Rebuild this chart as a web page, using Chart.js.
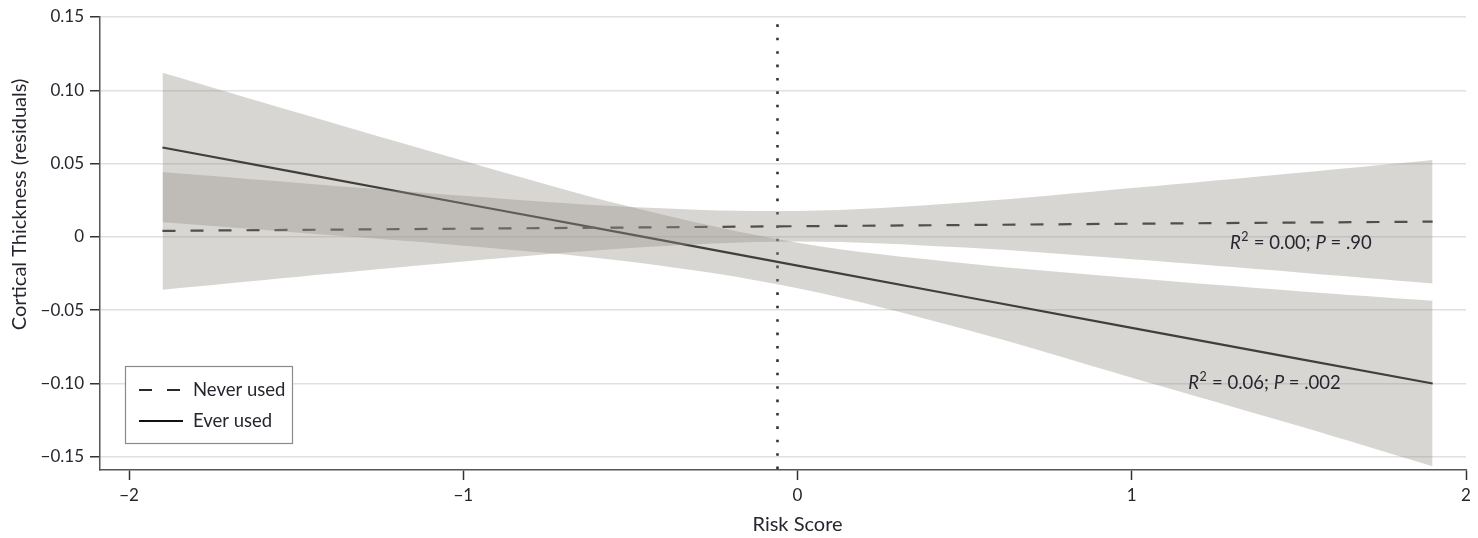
<!DOCTYPE html>
<html>
<head>
<meta charset="utf-8">
<script src="https://cdn.jsdelivr.net/npm/chart.js@4.4.1/dist/chart.umd.min.js"></script>
<style>
  html, body { margin: 0; padding: 0; background: #ffffff; }
  #wrap { width: 1478px; height: 538px; }
</style>
</head>
<body>
<div id="wrap"><canvas id="c" width="1478" height="538"></canvas></div>
<script>
// ---- data ----
const xPoints    = [-1.9, -1.5, -1.0, -0.5, 0, 0.5, 1.0, 1.5, 1.9];
const neverFit   = [0.0041, 0.0048, 0.0056, 0.0064, 0.0073, 0.0081, 0.0090, 0.0098, 0.0104];
const neverUpper = [0.0442, 0.0369, 0.0280, 0.0204, 0.0177, 0.0235, 0.0333, 0.0438, 0.0525];
const neverLower = [-0.0360, -0.0273, -0.0168, -0.0076, -0.0031, -0.0073, -0.0153, -0.0242, -0.0317];
const everFit    = [0.0610, 0.0440, 0.0228, 0.0017, -0.0196, -0.0408, -0.0620, -0.0832, -0.1000];
const everUpper  = [0.1120, 0.0850, 0.0520, 0.0205, -0.0040, -0.0180, -0.0280, -0.0370, -0.0435];
const everLower  = [0.0100, 0.0030, -0.0060, -0.0170, -0.0350, -0.0630, -0.0960, -0.1290, -0.1565];
const refLineX   = -0.06;
const refLineY   = [0.145, -0.159];

const xTicks      = [-2, -1, 0, 1, 2];
const xTickLabels = ['\u22122', '\u22121', '0', '1', '2'];
const yTicks      = [-0.15, -0.10, -0.05, 0, 0.05, 0.10, 0.15];
const yTickLabels = ['\u22120.15', '\u22120.10', '\u22120.05', '0', '0.05', '0.10', '0.15'];
const xRange = [-2.087, 2];
const yRange = [-0.159, 0.15];

const seriesNames = ['Never used', 'Ever used'];
const statLabels  = [
  [{t:'R', i:true}, {t:'2', s:true}, {t:' = 0.00; '}, {t:'P', i:true}, {t:' = .90'}],
  [{t:'R', i:true}, {t:'2', s:true}, {t:' = 0.06; '}, {t:'P', i:true}, {t:' = .002'}]
];
const xTitle = 'Risk Score';
const yTitle = 'Cortical Thickness (residuals)';

// ---- build ----
const pts = arr => arr.map((v, i) => ({x: xPoints[i], y: v}));
const BAND = 'rgba(150,143,136,0.37)';
const TXT = '#26262e';
const FONT = 'Lato';

const annotAnchors = [ {x: 1.294, y: -0.0039}, {x: 1.169, y: -0.0996} ];

const overlay = {
  id: 'overlay',
  afterDraw(chart) {
    const ctx = chart.ctx;
    const xs = chart.scales.x, ys = chart.scales.y;
    const ca = chart.chartArea;
    ctx.save();
    // axis titles
    ctx.fillStyle = TXT;
    ctx.font = '20px ' + FONT;
    ctx.textAlign = 'center';
    ctx.textBaseline = 'middle';
    ctx.fillText(xTitle, xs.getPixelForValue(0), 525);
    ctx.save();
    ctx.translate(20, (ca.top + ca.bottom) / 2 - 39);
    ctx.rotate(-Math.PI / 2);
    ctx.fillText(yTitle, 0, 0);
    ctx.restore();

    // annotations
    ctx.textAlign = 'left';
    ctx.textBaseline = 'middle';
    statLabels.forEach((parts, k) => {
      let px = xs.getPixelForValue(annotAnchors[k].x);
      const py = ys.getPixelForValue(annotAnchors[k].y);
      parts.forEach(p => {
        if (p.s) {
          ctx.font = '12.5px ' + FONT;
          ctx.fillText(p.t, px + 0.5, py - 6);
          px += ctx.measureText(p.t).width + 1;
        } else {
          ctx.font = (p.i ? 'italic ' : '') + '18.5px ' + FONT;
          ctx.fillText(p.t, px, py);
          px += ctx.measureText(p.t).width;
        }
      });
    });

    // legend
    const lx = ca.left + 25, ly = ca.bottom - 104, lw = 167, lh = 77;
    ctx.fillStyle = '#ffffff';
    ctx.fillRect(lx, ly, lw, lh);
    ctx.strokeStyle = '#8a8a8a';
    ctx.lineWidth = 1.2;
    ctx.strokeRect(lx + 0.5, ly + 0.5, lw, lh);
    const rows = [ly + 24, ly + 55];
    ctx.lineWidth = 2.2;
    // dashed sample
    ctx.strokeStyle = '#2a2a2a';
    ctx.setLineDash([13, 15]);
    ctx.beginPath(); ctx.moveTo(lx + 14, rows[0]); ctx.lineTo(lx + 58, rows[0]); ctx.stroke();
    ctx.setLineDash([]);
    ctx.strokeStyle = '#111111';
    ctx.beginPath(); ctx.moveTo(lx + 14, rows[1]); ctx.lineTo(lx + 58, rows[1]); ctx.stroke();
    ctx.fillStyle = TXT;
    ctx.font = '18.5px ' + FONT;
    ctx.fillText(seriesNames[0], lx + 68, rows[0]);
    ctx.fillText(seriesNames[1], lx + 68, rows[1]);
    ctx.restore();
  }
};

new Chart(document.getElementById('c'), {
  type: 'line',
  data: {
    datasets: [
      { label: 'neverUpper', data: pts(neverUpper), borderWidth: 0, borderColor: 'rgba(0,0,0,0)', backgroundColor: BAND, fill: '+1', pointRadius: 0, tension: 0.35 },
      { label: 'neverLower', data: pts(neverLower), borderWidth: 0, borderColor: 'rgba(0,0,0,0)', fill: false, pointRadius: 0, tension: 0.35 },
      { label: 'everUpper', data: pts(everUpper), borderWidth: 0, borderColor: 'rgba(0,0,0,0)', backgroundColor: BAND, fill: '+1', pointRadius: 0, tension: 0.35 },
      { label: 'everLower', data: pts(everLower), borderWidth: 0, borderColor: 'rgba(0,0,0,0)', fill: false, pointRadius: 0, tension: 0.35 },
      { label: seriesNames[0], data: pts(neverFit), borderColor: '#2a2a2a', borderWidth: 2.2, borderDash: [13, 15], fill: false, pointRadius: 0, tension: 0 },
      { label: seriesNames[1], data: pts(everFit), borderColor: '#111111', borderWidth: 2.2, fill: false, pointRadius: 0, tension: 0 },
      { label: 'ref', data: refLineY.map(v => ({x: refLineX, y: v})), borderColor: '#333333', borderWidth: 2.6, borderDash: [2.6, 10.8], borderCapStyle: 'butt', fill: false, pointRadius: 0 }
    ]
  },
  options: {
    responsive: false,
    animation: false,
    events: [],
    layout: { padding: { top: 17, right: 12, left: 0, bottom: 0 } },
    plugins: { legend: { display: false }, tooltip: { enabled: false }, title: { display: false } },
    scales: {
      x: {
        type: 'linear',
        min: xRange[0], max: xRange[1],
        afterBuildTicks: s => { s.ticks = xTicks.map(v => ({value: v})); },
        afterFit: s => { s.height = 68; },
        grid: { drawOnChartArea: false, drawTicks: true, tickLength: 10, tickColor: '#333333', tickWidth: 1.5 },
        border: { color: '#555555', width: 1.5 },
        ticks: { callback: (v, i) => xTickLabels[i], font: { family: FONT, size: 17 }, color: TXT, padding: 5, maxRotation: 0, autoSkip: false }
      },
      y: {
        type: 'linear',
        min: yRange[0], max: yRange[1],
        afterBuildTicks: s => { s.ticks = yTicks.map(v => ({value: v})); },
        afterFit: s => { s.width = 100; },
        grid: { color: '#e0e0e0', lineWidth: 1.5, drawTicks: true, tickLength: 10, tickColor: '#333333', tickWidth: 1.5 },
        border: { color: '#555555', width: 1.5 },
        ticks: { callback: (v, i) => yTickLabels[i], font: { family: FONT, size: 17 }, color: TXT, padding: 6, autoSkip: false }
      }
    }
  },
  plugins: [overlay]
});
</script>
</body>
</html>
